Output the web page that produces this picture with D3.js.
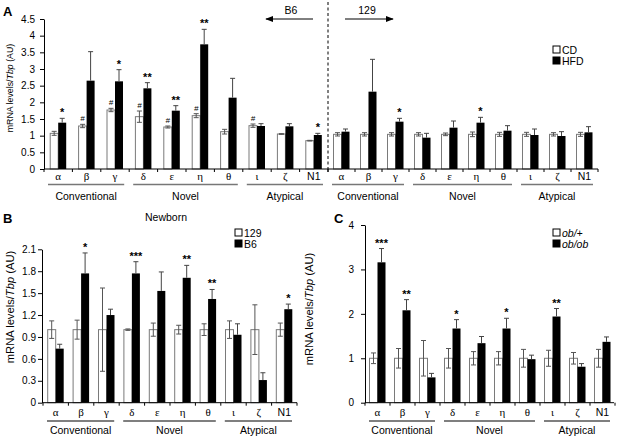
<!DOCTYPE html>
<html><head><meta charset="utf-8">
<script src="https://cdn.jsdelivr.net/npm/d3@7"></script>
<style>body{margin:0;background:#fff}svg{display:block}text{font-family:"Liberation Sans",Arial,sans-serif;fill:#000}</style>
</head><body>
<svg id="c" width="621" height="439"></svg>
<script>
// ---------- shared categories ----------
const genes = ["α","β","γ","δ","ε","η","θ","ι","ζ","N1"];
const familyNames = ["Conventional","Novel","Atypical"];
const familyFirst = [0,3,7];
const familyLast = [2,6,9];

// ---------- Panel A (B6 | 129; CD vs HFD) ----------
const ticksA = [0,0.5,1,1.5,2,2.5,3,3.5,4,4.5];
const legendA = ["CD","HFD"];
const cdB6      = [1.07,1.29,1.77,1.57,1.26,1.60,1.12,1.30,1.05,0.85];
const cdB6Err   = [0.06,0.05,0.05,0.17,0.03,0.06,0.07,0.05,0.01,0.01];
const hfdB6     = [1.39,2.65,2.63,2.42,1.75,3.74,2.14,1.29,1.28,1.02];
const hfdB6Err  = [0.13,0.87,0.35,0.17,0.15,0.45,0.58,0.07,0.08,0.05];
const hashB6    = ["","#","#","#","#","#","","#","",""];
const starB6    = ["*","","*","**","**","**","","","","*"];
const cd129     = [1.04,1.04,1.04,1.04,1.04,1.04,1.04,1.04,1.04,1.04];
const cd129Err  = [0.05,0.05,0.05,0.05,0.04,0.07,0.06,0.06,0.05,0.06];
const hfd129    = [1.12,2.32,1.42,0.94,1.24,1.39,1.15,1.02,0.99,1.10];
const hfd129Err = [0.08,0.97,0.10,0.13,0.20,0.16,0.15,0.18,0.13,0.17];
const star129   = ["","","*","","","*","","","",""];

// ---------- Panel B (Newborn; 129 vs B6) ----------
const ticksB = [0,0.3,0.6,0.9,1.2,1.5,1.8,2.1];
const legendB = ["129","B6"];
const nb129     = [1,1,1,1,1,1,1,1,1,1];
const nb129Err  = [0.12,0.13,0.57,0.01,0.09,0.06,0.08,0.12,0.34,0.09];
const nbB6      = [0.74,1.77,1.20,1.77,1.53,1.71,1.42,0.93,0.31,1.28];
const nbB6Err   = [0.06,0.28,0.08,0.16,0.26,0.17,0.13,0.15,0.10,0.07];
const starB     = ["","*","","***","","**","**","","","*"];

// ---------- Panel C (ob/+ vs ob/ob) ----------
const ticksC = [0,1,2,3,4];
const legendC = ["ob/+","ob/ob"];
const obHet     = [1,1,1,1,1,1,1,1,1,1];
const obHetErr  = [0.12,0.22,0.40,0.22,0.15,0.15,0.20,0.18,0.13,0.20];
const obOb      = [3.16,2.08,0.57,1.67,1.34,1.67,0.98,1.94,0.81,1.37];
const obObErr   = [0.31,0.24,0.09,0.20,0.15,0.23,0.09,0.18,0.07,0.11];
const starC     = ["***","**","","*","","*","","**","",""];

const svg = d3.select("#c");
const SANS = '"Liberation Sans",Arial,sans-serif';
const SERIF = '"Liberation Serif","Times New Roman",serif';
const BW = 8;

function bars(g, x, y, white, whiteErr, black, blackErr, stars, hashes){
  const y0 = y(0);
  genes.forEach((gn,i)=>{
    const c = x(gn) + x.bandwidth()/2;
    const wx = c - BW, bx = c;
    // white bar
    g.append("rect").attr("x", wx).attr("y", y(white[i])).attr("width", BW)
      .attr("height", y0 - y(white[i])).attr("fill","#fff").attr("stroke","#7a7a7a").attr("stroke-width",1);
    // black bar
    g.append("rect").attr("x", bx).attr("y", y(black[i])).attr("width", BW)
      .attr("height", y0 - y(black[i])).attr("fill","#000");
    // white error
    const wc = wx + BW/2, wt = y(white[i]+whiteErr[i]), wb = y(white[i]-whiteErr[i]);
    g.append("line").attr("x1",wc).attr("x2",wc).attr("y1",wt).attr("y2",wb).attr("stroke","#555");
    [wt,wb].forEach(yy=>g.append("line").attr("x1",wc-2.5).attr("x2",wc+2.5).attr("y1",yy).attr("y2",yy).attr("stroke","#555"));
    // black error (upper)
    const bc = bx + BW/2, bt = y(black[i]+blackErr[i]);
    g.append("line").attr("x1",bc).attr("x2",bc).attr("y1",bt).attr("y2",y(black[i])).attr("stroke","#444");
    g.append("line").attr("x1",bc-2.5).attr("x2",bc+2.5).attr("y1",bt).attr("y2",bt).attr("stroke","#444");
    if (stars && stars[i]) g.append("text").attr("x",bc).attr("y",bt-2).attr("text-anchor","middle")
      .style("font-size","11px").style("font-weight","bold").text(stars[i]);
    if (hashes && hashes[i]) g.append("text").attr("x",wc).attr("y",wt-3).attr("text-anchor","middle")
      .style("font-size","8px").style("font-style","italic").text(hashes[i]);
  });
}

function xAxisAndLabels(g, x, y0, greekY, lineY, famY, lineColor){
  // tick marks at group boundaries
  const step = x.step();
  const bounds = genes.map(gn=>x(gn)).concat([x(genes[genes.length-1])+step]);
  bounds.forEach(b=>g.append("line").attr("x1",b).attr("x2",b).attr("y1",y0).attr("y2",y0+3).attr("stroke","#000"));
  genes.forEach(gn=>{
    const isN = gn === "N1";
    g.append("text").attr("x", x(gn)+x.bandwidth()/2).attr("y", greekY).attr("text-anchor","middle")
      .style("font-family", isN ? SANS : SERIF).style("font-size", isN ? "10.5px" : "11px").text(gn);
  });
  familyNames.forEach((f,k)=>{
    const a = x(genes[familyFirst[k]]) + 4, b = x(genes[familyLast[k]]) + step - 5;
    g.append("line").attr("x1",a).attr("x2",b).attr("y1",lineY).attr("y2",lineY).attr("stroke",lineColor).attr("stroke-width",1.5);
    g.append("text").attr("x",(a+b)/2).attr("y",famY).attr("text-anchor","middle").style("font-size","10.5px").text(f);
  });
}

function yAxis(g, x0, y, ticks, pad){
  const ax = d3.axisLeft(y).tickValues(ticks).tickSize(4).tickSizeOuter(0).tickPadding(pad).tickFormat(d3.format("~g"));
  const a = g.append("g").attr("transform",`translate(${x0},0)`).call(ax);
  a.selectAll("text").style("font-size","10px").style("font-family",SANS);
  a.selectAll("line,path").attr("stroke","#000");
}

function yTitle(g, x, cy, size){
  const t = g.append("text").attr("transform",`translate(${x},${cy}) rotate(-90)`).attr("text-anchor","middle")
    .style("font-size",size+"px");
  t.append("tspan").text("mRNA levels/");
  t.append("tspan").style("font-style","italic").text("Tbp");
  t.append("tspan").text(" (AU)");
}

function legend(g, x, y, names, italic){
  names.forEach((n,i)=>{
    g.append("rect").attr("x",x).attr("y",y+i*11).attr("width",7).attr("height",7)
      .attr("fill", i===0 ? "#fff" : "#000").attr("stroke","#000").attr("stroke-width",1);
    g.append("text").attr("x",x+9).attr("y",y+i*11+7.5).style("font-size","10.5px")
      .style("font-style", italic ? "italic" : "normal").text(n);
  });
}

function label(x,y,t){ svg.append("text").attr("x",x).attr("y",y).style("font-size","13px").style("font-weight","bold").text(t); }

// ================= Panel A =================
{
  const g = svg.append("g");
  const yA = d3.scaleLinear().domain([0,4.5]).range([169,19]);
  const xL = d3.scaleBand().domain(genes).range([44,328]).padding(0);
  const xR = d3.scaleBand().domain(genes).range([328,598]).padding(0);
  bars(g, xL, yA, cdB6, cdB6Err, hfdB6, hfdB6Err, starB6, hashB6);
  bars(g, xR, yA, cd129, cd129Err, hfd129, hfd129Err, star129, null);
  g.append("line").attr("x1",44).attr("x2",598).attr("y1",yA(0)).attr("y2",yA(0)).attr("stroke","#000");
  xAxisAndLabels(g, xL, yA(0), 180, 184.5, 200, "#777");
  xAxisAndLabels(g, xR, yA(0), 180, 184.5, 200, "#777");
  yAxis(g, 44, yA, ticksA, 5);
  yTitle(g, 13, 88, 8.8);
  // dashed divider
  g.append("line").attr("x1",328).attr("x2",328).attr("y1",2).attr("y2",yA(0)).attr("stroke","#000").attr("stroke-dasharray","3,2.5");
  // strain arrows
  svg.append("defs").append("marker").attr("id","ah").attr("viewBox","0 0 10 10").attr("refX",9).attr("refY",5)
    .attr("markerWidth",8).attr("markerHeight",8).attr("orient","auto-start-reverse").attr("markerUnits","userSpaceOnUse")
    .append("path").attr("d","M0,1 L10,5 L0,9 Z").attr("fill","#000");
  g.append("line").attr("x1",313).attr("x2",266).attr("y1",19).attr("y2",19).attr("stroke","#000").attr("marker-end","url(#ah)");
  g.append("text").attr("x",291).attr("y",13.5).attr("text-anchor","middle").style("font-size","10.5px").text("B6");
  g.append("line").attr("x1",345).attr("x2",393).attr("y1",19).attr("y2",19).attr("stroke","#000").attr("marker-end","url(#ah)");
  g.append("text").attr("x",367).attr("y",13.5).attr("text-anchor","middle").style("font-size","10.5px").text("129");
  legend(g, 553, 46, legendA, false);
  label(3,16,"A");
}

// ================= Panel B =================
{
  const g = svg.append("g");
  const yB = d3.scaleLinear().domain([0,2.1]).range([402.7,249.3]);
  const xB = d3.scaleBand().domain(genes).range([43,297]).padding(0);
  bars(g, xB, yB, nb129, nb129Err, nbB6, nbB6Err, starB, null);
  g.append("line").attr("x1",42).attr("x2",297).attr("y1",yB(0)).attr("y2",yB(0)).attr("stroke","#000");
  xAxisAndLabels(g, xB, yB(0), 416, 421, 434, "#555");
  yAxis(g, 42, yB, ticksB, 2);
  yTitle(g, 14, 307, 11.2);
  g.append("text").attr("x",166).attr("y",221).attr("text-anchor","middle").style("font-size","10.5px").text("Newborn");
  legend(g, 235, 229, legendB, false);
  label(3,223,"B");
}

// ================= Panel C =================
{
  const g = svg.append("g");
  const yC = d3.scaleLinear().domain([0,4]).range([402.7,225]);
  const xC = d3.scaleBand().domain(genes).range([365,615]).padding(0);
  bars(g, xC, yC, obHet, obHetErr, obOb, obObErr, starC, null);
  g.append("line").attr("x1",365).attr("x2",614).attr("y1",yC(0)).attr("y2",yC(0)).attr("stroke","#000");
  xAxisAndLabels(g, xC, yC(0), 416, 421, 434, "#555");
  yAxis(g, 365, yC, ticksC, 7);
  yTitle(g, 313, 309, 11.2);
  legend(g, 553, 229, legendC, true);
  label(334,223,"C");
}
</script>
</body></html>
